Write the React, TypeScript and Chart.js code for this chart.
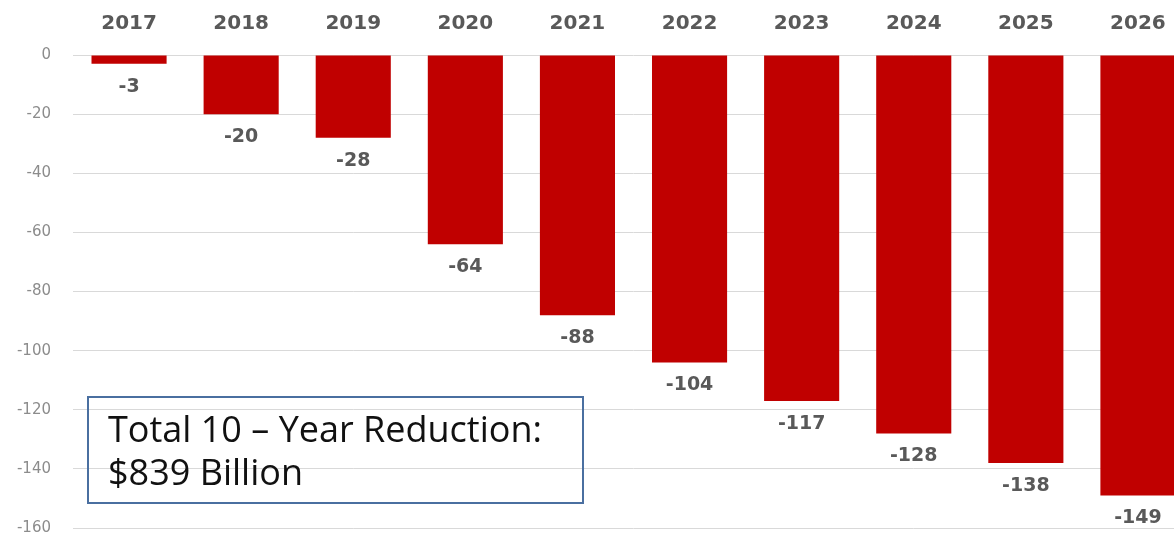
import React, { useEffect, useRef } from "react";
import { Chart, registerables } from "chart.js";

Chart.register(...registerables);

const years: string[] = ["2017", "2018", "2019", "2020", "2021", "2022", "2023", "2024", "2025", "2026"];
const reductions: number[] = [-3, -20, -28, -64, -88, -104, -117, -128, -138, -149];
const yTicks: number[] = [0, -20, -40, -60, -80, -100, -120, -140, -160];
const boxLines: string[] = ["Total 10 \u2013 Year Reduction:", "$839 Billion"];

const BAR_RED = "#C00000";
const LABEL_GRAY = "#595959";

const valueLabels = {
  id: "valueLabels",
  afterDatasetsDraw(chart: any) {
    const ctx = chart.ctx;
    const meta = chart.getDatasetMeta(0);
    ctx.save();
    ctx.font = "bold 19px 'DejaVu Sans'";
    ctx.fillStyle = LABEL_GRAY;
    ctx.textAlign = "center";
    ctx.textBaseline = "middle";
    meta.data.forEach((el: any, i: number) => {
      ctx.fillText(String(reductions[i]), el.x, el.y + 23);
    });
    ctx.restore();
  },
};

const totalBox = {
  id: "totalBox",
  afterDraw(chart: any) {
    const ctx = chart.ctx;
    ctx.save();
    ctx.strokeStyle = "#4A6FA0";
    ctx.lineWidth = 2;
    ctx.strokeRect(88, 397, 495, 106);
    let size = 36;
    ctx.font = `${size}px 'Open Sans'`;
    while (ctx.measureText(boxLines[0]).width > 464 && size > 10) {
      size -= 0.5;
      ctx.font = `${size}px 'Open Sans'`;
    }
    ctx.fillStyle = "#111111";
    ctx.textAlign = "left";
    ctx.textBaseline = "alphabetic";
    ctx.fillText(boxLines[0], 108, 442);
    ctx.fillText(boxLines[1], 108, 485);
    ctx.restore();
  },
};

export default function App() {
  const canvasRef = useRef<HTMLCanvasElement | null>(null);

  useEffect(() => {
    if (!canvasRef.current) return;
    const chart = new Chart(canvasRef.current, {
      type: "bar",
      data: {
        labels: years,
        datasets: [
          {
            data: reductions,
            backgroundColor: BAR_RED,
            borderWidth: 0,
            barPercentage: 0.67,
            categoryPercentage: 1,
          },
        ],
      },
      options: {
        responsive: true,
        maintainAspectRatio: false,
        animation: false,
        devicePixelRatio: 1,
        layout: { padding: { left: 0, right: 0, top: 0, bottom: 9 } },
        plugins: {
          legend: { display: false },
          tooltip: { enabled: false },
          title: { display: false },
        },
        scales: {
          x: {
            position: "top",
            grid: { display: false, drawTicks: false },
            border: { display: false },
            ticks: {
              color: LABEL_GRAY,
              font: { family: "'DejaVu Sans'", size: 20, weight: "bold" },
              padding: 19,
              maxRotation: 0,
              autoSkip: false,
            },
            afterFit: (axis: any) => {
              axis.height = 55;
            },
          },
          y: {
            min: -160,
            max: 0,
            afterBuildTicks: (axis: any) => {
              axis.ticks = yTicks.map((v) => ({ value: v }));
            },
            grid: { color: "#D9D9D9", lineWidth: 1, drawTicks: false },
            border: { display: false },
            ticks: {
              color: "#8C8C8C",
              font: { family: "'DejaVu Sans'", size: 15 },
              padding: 22,
            },
            afterFit: (axis: any) => {
              axis.width = 73;
              axis.paddingTop = 0;
              axis.paddingBottom = 0;
            },
          },
        },
      },
      plugins: [valueLabels, totalBox],
    });
    return () => chart.destroy();
  }, []);

  return (
    <div
      style={{
        position: "fixed",
        left: 0,
        top: 0,
        width: 1174,
        height: 537,
        overflow: "hidden",
        background: "#ffffff",
      }}
    >
      <div style={{ position: "relative", width: 1194, height: 537 }}>
        <canvas ref={canvasRef} />
      </div>
    </div>
  );
}
